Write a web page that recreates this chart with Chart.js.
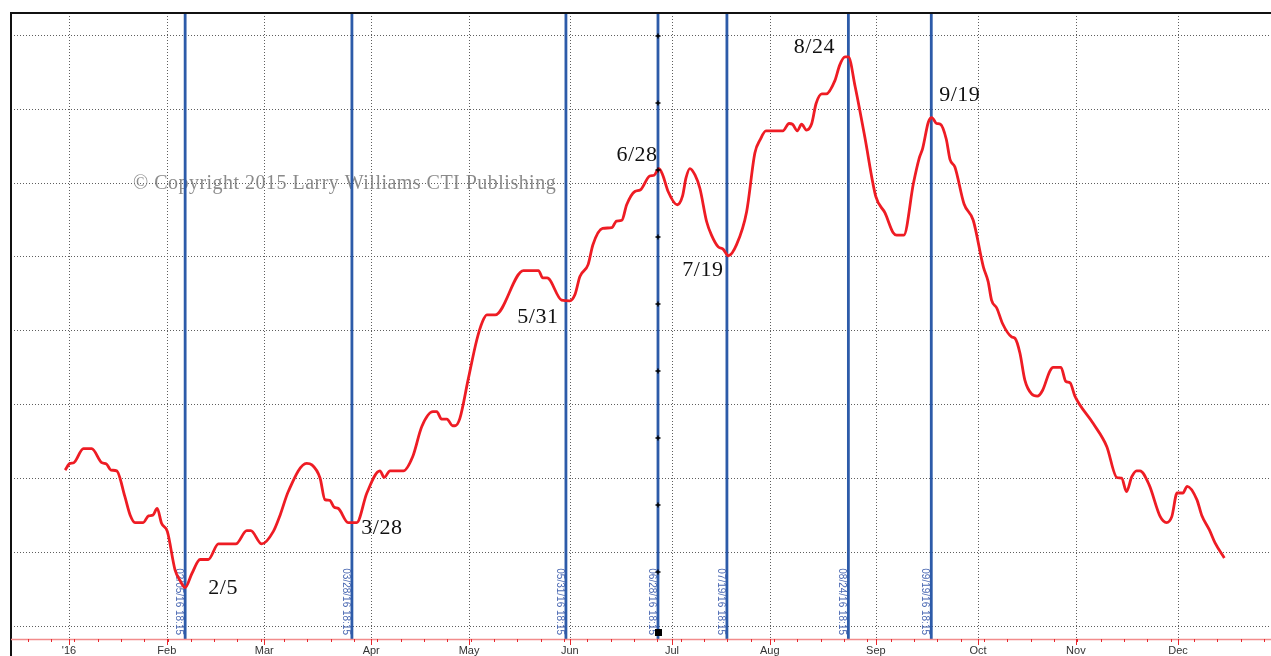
<!DOCTYPE html>
<html><head><meta charset="utf-8">
<script src="https://cdn.jsdelivr.net/npm/chart.js@4/dist/chart.umd.min.js"></script>
<style>html,body{margin:0;padding:0;background:#fff;overflow:hidden}#wrap{position:relative;width:1271px;height:656px}</style>
</head><body><div id="wrap"><canvas id="c" width="1271" height="656"></canvas></div>
<script>
// ---- data (x = trading-day index from Jan 1 2016, y = seasonal index) ----
const months = ["'16","Feb","Mar","Apr","May","Jun","Jul","Aug","Sep","Oct","Nov","Dec"];
const monthStarts = [0,20.3,40.5,62.7,83.0,103.9,125.1,145.4,167.4,188.6,208.9,230.1];
const dayIndex = [-0.8,0.2,1.0,3.0,4.7,6.8,7.8,8.7,9.9,11.6,12.7,13.7,15.4,16.5,17.4,18.3,19.2,20.4,22.0,23.0,24.1,25.5,27.2,28.9,31.0,34.6,36.9,37.7,40.0,42.4,43.8,45.5,49.3,50.4,52.1,53.1,54.1,55.0,55.9,57.9,59.7,61.8,64.5,65.4,66.6,69.4,71.3,73.2,75.5,76.3,77.3,78.4,79.6,80.1,81.1,82.8,84.6,85.8,86.7,88.4,94.3,97.4,98.3,99.2,102.2,103.9,105.0,106.0,107.7,108.7,110.7,112.6,113.6,114.7,115.7,117.4,118.5,120.5,121.4,122.4,123.2,124.3,126.2,127.3,128.0,128.8,129.9,130.9,132.3,133.3,134.7,135.7,136.8,138.5,140.6,142.3,143.4,144.6,148.1,149.4,150.1,151.1,152.0,153.0,154.1,155.0,156.2,157.1,158.9,159.9,161.0,161.7,163.1,165.1,167.4,169.3,171.0,171.7,173.2,175.2,176.4,177.1,178.3,179.0,180.0,180.8,182.0,182.8,183.8,185.7,187.6,189.7,190.7,191.4,192.5,193.7,195.6,196.3,197.3,198.3,199.7,200.9,202.0,203.5,204.2,205.8,206.8,207.7,208.7,212.5,215.3,217.4,218.4,219.4,220.5,221.5,222.2,224.1,226.4,227.7,228.8,229.9,231.1,232.0,234.0,235.0,236.6,237.8,239.7];
const seasonal = [21.1,22.0,22.1,24.0,24.0,22.1,21.9,21.1,21.0,17.5,15.0,14.0,14.0,14.9,15.0,15.9,13.9,12.8,7.6,6.2,5.2,7.1,9.0,9.0,11.1,11.1,12.9,12.9,11.1,12.8,15.0,18.2,22.0,21.8,20.0,17.1,17.0,16.1,15.9,14.0,14.0,18.0,21.0,20.1,21.0,21.0,22.9,27.0,29.0,29.0,28.0,28.0,27.1,27.1,28.1,33.3,38.7,41.2,42.1,42.1,48.1,48.1,47.1,47.1,44.1,44.0,44.9,47.3,48.9,51.6,53.8,53.9,54.8,54.9,57.0,58.8,59.0,60.9,61.0,61.9,61.0,58.8,57.0,58.2,60.6,61.9,61.0,59.2,54.7,52.9,51.3,51.0,50.1,51.6,56.1,64.0,65.8,67.0,67.0,68.0,67.9,67.0,67.9,67.1,68.0,70.7,72.0,72.0,73.8,75.9,77.0,77.0,73.0,66.2,58.1,55.9,53.2,52.9,52.9,59.9,63.3,64.6,68.2,68.8,68.0,67.9,65.9,63.1,62.1,57.1,54.9,48.6,46.6,44.1,43.0,40.9,39.1,38.9,36.9,33.3,31.4,31.1,31.9,34.5,35.0,35.0,33.1,32.9,31.1,27.4,24.3,20.1,20.0,18.2,20.2,21.0,21.0,19.1,14.8,14.0,14.8,18.0,18.0,18.9,17.1,15.0,13.0,11.2,9.2];
const markerIdx = [24.1,58.7,103.1,122.2,136.5,161.7,178.9];
const markerText = ['2/5','3/28','5/31','6/28','7/19','8/24','9/19'];
const markerStamp = ['02/05/16 18:15','03/28/16 18:15','05/31/16 18:15','06/28/16 18:15','07/19/16 18:15','08/24/16 18:15','09/19/16 18:15'];
const markerValue = [5.2,14.0,44.0,61.9,50.1,77.0,68.8];
const yGrid = [0,10,20,30,40,50,60,70,80];
const copyright = '\u00A9 Copyright 2015 Larry Williams CTI Publishing';

// ---- styling for the marker labels (pixel offsets from line / extreme point) ----
const labelOffsets = [[38,1],[30,6],[-28,16],[-21,-13],[-24,14],[-34,-10],[28.5,-22]];

const decor = {
  id:'decor',
  beforeDatasetsDraw(chart){
    const {ctx, chartArea:a, scales:{x,y}} = chart;
    ctx.save();
    ctx.strokeStyle = '#5e5e5e'; ctx.lineWidth = 1; ctx.setLineDash([1,2]);
    yGrid.forEach(v=>{const py=Math.round(y.getPixelForValue(v))+0.5;ctx.beginPath();ctx.moveTo(a.left,py);ctx.lineTo(a.right,py);ctx.stroke();});
    monthStarts.forEach(v=>{const px=Math.round(x.getPixelForValue(v))+0.5;ctx.beginPath();ctx.moveTo(px,a.top);ctx.lineTo(px,a.bottom);ctx.stroke();});
    ctx.setLineDash([]);
    ctx.font = '20px "Liberation Serif", serif';
    const w = ctx.measureText(copyright).width;
    ctx.letterSpacing = ((423 - w)/copyright.length).toFixed(2)+'px';
    ctx.fillStyle = 'rgba(125,125,125,0.9)'; ctx.textBaseline='alphabetic'; ctx.textAlign='left';
    ctx.fillText(copyright, 133, 189);
    ctx.letterSpacing = '0px';
    ctx.strokeStyle = '#2d5ba9'; ctx.lineWidth = 2.8;
    markerIdx.forEach(v=>{const px=x.getPixelForValue(v);ctx.beginPath();ctx.moveTo(px,a.top);ctx.lineTo(px,a.bottom);ctx.stroke();});
    ctx.font = '10px "Liberation Sans", Arial, sans-serif'; ctx.fillStyle = '#4a68b2';
    ctx.textAlign='right'; ctx.textBaseline='middle';
    markerIdx.forEach((v,i)=>{const px=x.getPixelForValue(v);ctx.save();ctx.translate(px-6.5,a.bottom-4);ctx.rotate(Math.PI/2);ctx.fillText(markerStamp[i],0,0);ctx.restore();});
    ctx.restore();
  },
  afterDatasetsDraw(chart){
    const {ctx, chartArea:a, scales:{x,y}} = chart;
    ctx.save();
    ctx.font = '22px "Liberation Serif", serif'; ctx.fillStyle='#111';
    ctx.textAlign='center'; ctx.textBaseline='middle'; ctx.letterSpacing='0.5px';
    markerIdx.forEach((v,i)=>{const px=x.getPixelForValue(v)+labelOffsets[i][0];const py=y.getPixelForValue(markerValue[i])+labelOffsets[i][1];ctx.fillText(markerText[i],px,py);});
    ctx.letterSpacing='0px';
    const cx = x.getPixelForValue(markerIdx[3]);
    ctx.strokeStyle='#000'; ctx.lineWidth=1.4;
    for(let py=a.top+23; py<a.bottom-40; py+=67){ctx.beginPath();ctx.moveTo(cx-2.5,py);ctx.lineTo(cx+2.5,py);ctx.moveTo(cx,py-2.5);ctx.lineTo(cx,py+2.5);ctx.stroke();}
    ctx.fillStyle='#000'; ctx.fillRect(cx-3,a.bottom-10,7,7);
    ctx.strokeStyle='#111'; ctx.lineWidth=2;
    ctx.beginPath(); ctx.moveTo(a.left,656); ctx.lineTo(a.left,a.top); ctx.lineTo(a.right,a.top); ctx.stroke();
    ctx.strokeStyle='#f28c8c'; ctx.lineWidth=1.5;
    ctx.beginPath(); ctx.moveTo(a.left,a.bottom+0.5); ctx.lineTo(a.right,a.bottom+0.5); ctx.stroke();
    ctx.strokeStyle='#e8282e'; ctx.lineWidth=1;
    for(let v=-8.6; v<x.max; v+=4.84){const px=Math.round(x.getPixelForValue(v))+0.5;ctx.beginPath();ctx.moveTo(px,a.bottom);ctx.lineTo(px,a.bottom+3);ctx.stroke();}
    monthStarts.forEach(v=>{const px=Math.round(x.getPixelForValue(v))+0.5;ctx.beginPath();ctx.moveTo(px,a.bottom);ctx.lineTo(px,a.bottom+6);ctx.stroke();});
    ctx.restore();
  }
};

new Chart(document.getElementById('c'), {
  type:'line',
  data:{datasets:[{data: dayIndex.map((d,i)=>({x:d,y:seasonal[i]})), borderColor:'#ee1c24', borderWidth:2.8, pointRadius:0, cubicInterpolationMode:'monotone', fill:false}]},
  options:{
    responsive:false, animation:false, devicePixelRatio:1,
    layout:{padding:{left:11,top:13,right:0,bottom:0}},
    plugins:{legend:{display:false}, tooltip:{enabled:false}},
    scales:{
      x:{type:'linear', min:-12.03, max:249.38,
         grid:{display:false, drawTicks:false}, border:{display:false},
         afterBuildTicks:s=>{s.ticks = monthStarts.map(v=>({value:v}));},
         afterFit:s=>{s.height=17;},
         ticks:{autoSkip:false, maxRotation:0, padding:5, color:'#333', font:{family:'"Liberation Sans", Arial, sans-serif', size:11}, callback:(v,i)=>months[i]}},
      y:{display:false, min:-1.76, max:82.95}
    }
  },
  plugins:[decor]
});
</script></body></html>
